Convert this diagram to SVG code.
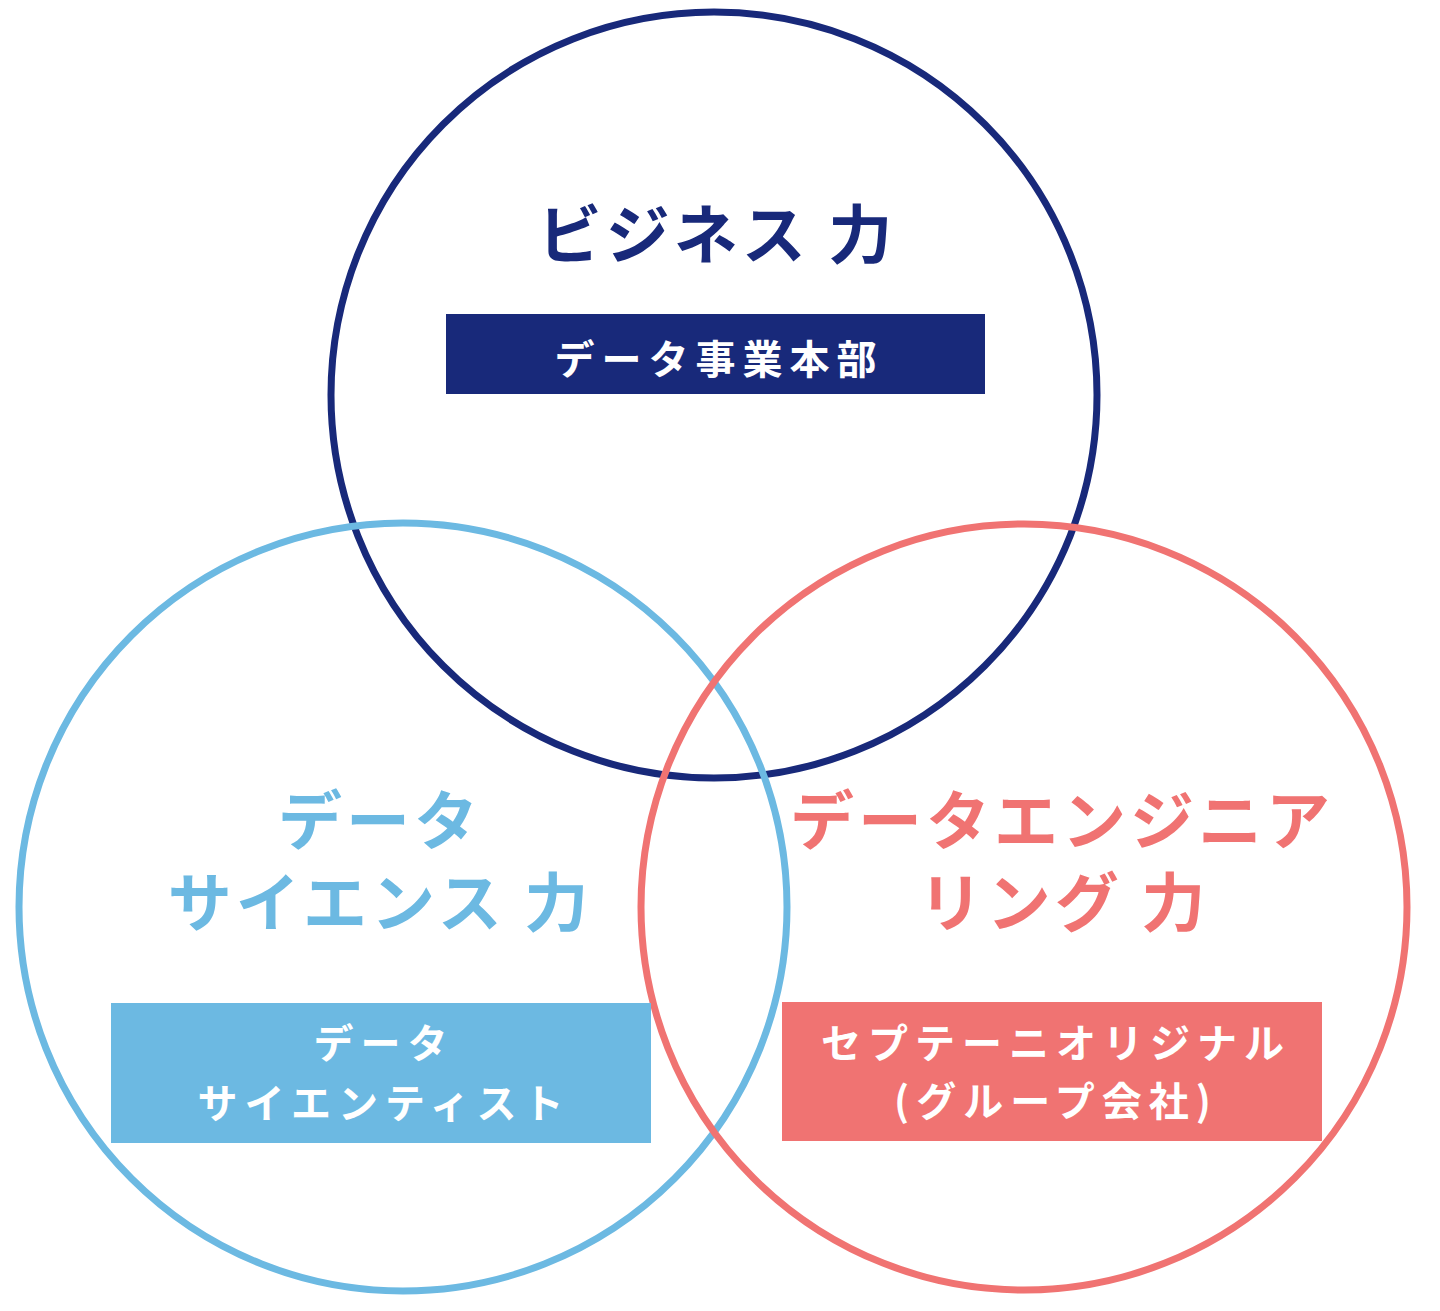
<svg xmlns="http://www.w3.org/2000/svg" width="1440" height="1311" viewBox="0 0 1440 1311">
<style>
.t{font-family:"Noto Sans CJK JP","Noto Sans",sans-serif;font-weight:700;text-anchor:middle}
.big{font-size:64px;letter-spacing:4px}
.small{font-size:40px;letter-spacing:7px;fill:#ffffff}
.ring{fill:none;stroke-width:7}
</style>
<rect width="1440" height="1311" fill="#ffffff"/>
<g id="circles">
<circle id="business-circle" class="ring" cx="714" cy="395" r="383" stroke="#18297a"/>
<circle id="science-circle" class="ring" cx="403" cy="907" r="384" stroke="#6cb9e2"/>
<circle id="engineering-circle" class="ring" cx="1024" cy="907" r="383" stroke="#f07372"/>
</g>
<g id="business">
<text class="t big" x="717" y="258" fill="#18297a">ビジネス 力</text>
<rect x="446" y="314" width="539" height="80" fill="#18297a"/>
<text class="t small" x="719" y="374">データ事業本部</text>
</g>
<g id="science">
<text class="t big" fill="#6cb9e2"><tspan x="380" y="844">データ</tspan><tspan x="380" y="926">サイエンス 力</tspan></text>
<rect x="111" y="1003" width="540" height="140" fill="#6cb9e2"/>
<text class="t small"><tspan x="384" y="1058">データ</tspan><tspan x="384" y="1118">サイエンティスト</tspan></text>
</g>
<g id="engineering">
<text class="t big" fill="#f07372"><tspan x="1062" y="844">データエンジニア</tspan><tspan x="1064" y="926">リング 力</tspan></text>
<rect x="782" y="1002" width="540" height="139" fill="#f07372"/>
<text class="t small"><tspan x="1056" y="1058">セプテーニオリジナル</tspan><tspan x="1056" y="1116">(グループ会社)</tspan></text>
</g>
</svg>
